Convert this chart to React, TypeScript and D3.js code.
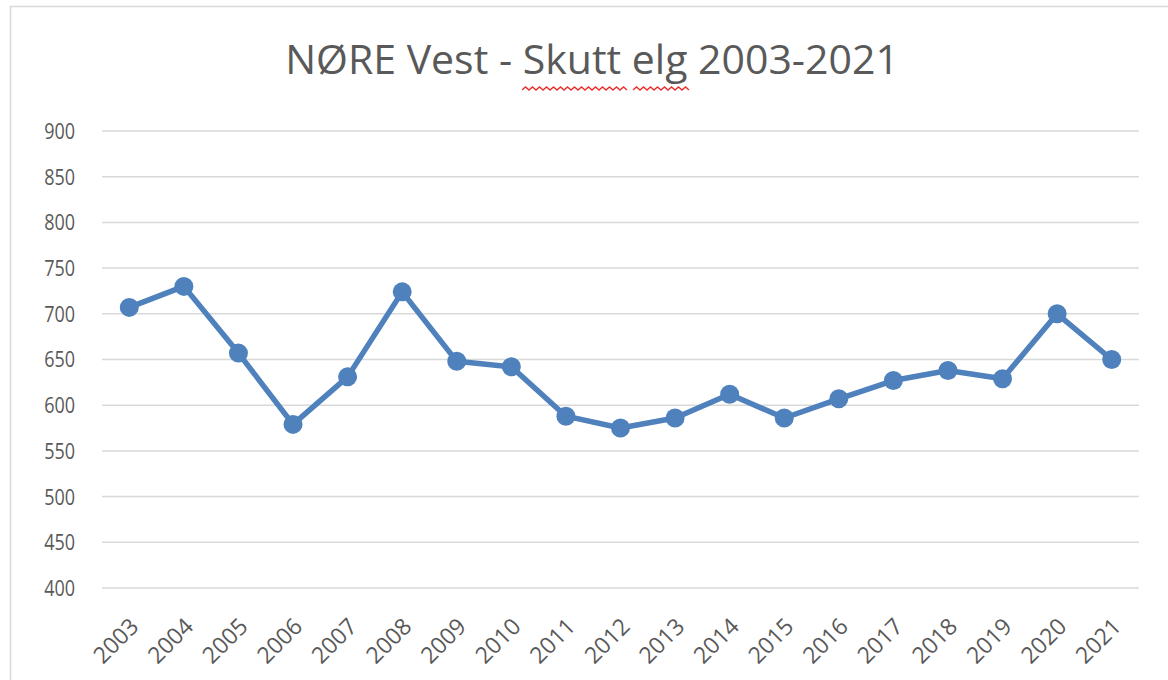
import React from "react";
import * as d3 from "d3";

const years: string[] = ["2003","2004","2005","2006","2007","2008","2009","2010","2011","2012","2013","2014","2015","2016","2017","2018","2019","2020","2021"];
const shotMoose: number[] = [707, 730, 657, 579, 631, 724, 648, 642, 588, 575, 586, 612, 586, 607, 627, 638, 629, 700, 650];
const yTicks: number[] = [400, 450, 500, 550, 600, 650, 700, 750, 800, 850, 900];
const title = "NØRE Vest - Skutt elg 2003-2021";

const W = 1168;
const H = 680;
const plotLeft = 102;
const plotRight = 1139;
const plotTop = 131;
const plotBottom = 588;
const textColor = "#595959";
const gridColor = "#d9d9d9";
const lineColor = "#4f81bd";
const font = "'Open Sans', 'Liberation Sans', sans-serif";

// spell-check squiggle under a word (decoration)
function squiggle(x0: number, x1: number, yy: number): string {
  const step = 3.5;
  let d = `M${x0},${yy}`;
  let up = true;
  for (let xx = x0 + step; xx <= x1; xx += step) {
    d += ` L${xx},${yy + (up ? -3 : 0)}`;
    up = !up;
  }
  return d;
}

export default function App() {
  const x = d3.scaleBand<string>().domain(years).range([plotLeft, plotRight]);
  const cx = (d: string) => (x(d) as number) + x.bandwidth() / 2;
  const y = d3.scaleLinear().domain([400, 900]).range([plotBottom, plotTop]);
  const line = d3
    .line<number>()
    .x((_, i) => cx(years[i]))
    .y((v) => y(v));

  return (
    <svg
      width={W}
      height={H}
      style={{ position: "absolute", left: 0, top: 0, background: "#fff" }}
      fontFamily={font}
    >
      <rect x={0} y={0} width={W} height={H} fill="#fff" />
      <rect x={10.5} y={6.5} width={1200} height={700} fill="#fff" stroke={gridColor} strokeWidth={1.5} />
      <text x={592} y={74} textAnchor="middle" fontSize={41} fill={textColor}>
        {title}
      </text>
      <path d={squiggle(522, 627, 90)} fill="none" stroke="#e8312f" strokeWidth={1.4} />
      <path d={squiggle(633, 690, 90)} fill="none" stroke="#e8312f" strokeWidth={1.4} />
      {yTicks.map((t) => (
        <g key={t}>
          <line x1={plotLeft} x2={plotRight} y1={y(t)} y2={y(t)} stroke={gridColor} strokeWidth={1.5} />
          <text
            transform={`translate(75,${y(t)}) scale(1,1.22)`}
            dy="0.36em"
            textAnchor="end"
            fontSize={18}
            fill={textColor}
          >
            {t}
          </text>
        </g>
      ))}
      {years.map((yr) => (
        <text
          key={yr}
          transform={`translate(${cx(yr) + 5},${622}) rotate(-45)`}
          dy="0.36em"
          textAnchor="end"
          fontSize={23}
          fill={textColor}
        >
          {yr}
        </text>
      ))}
      <path d={line(shotMoose) || ""} fill="none" stroke={lineColor} strokeWidth={5.5} strokeLinejoin="round" />
      {shotMoose.map((v, i) => (
        <circle key={years[i]} cx={cx(years[i])} cy={y(v)} r={9.5} fill={lineColor} />
      ))}
    </svg>
  );
}
